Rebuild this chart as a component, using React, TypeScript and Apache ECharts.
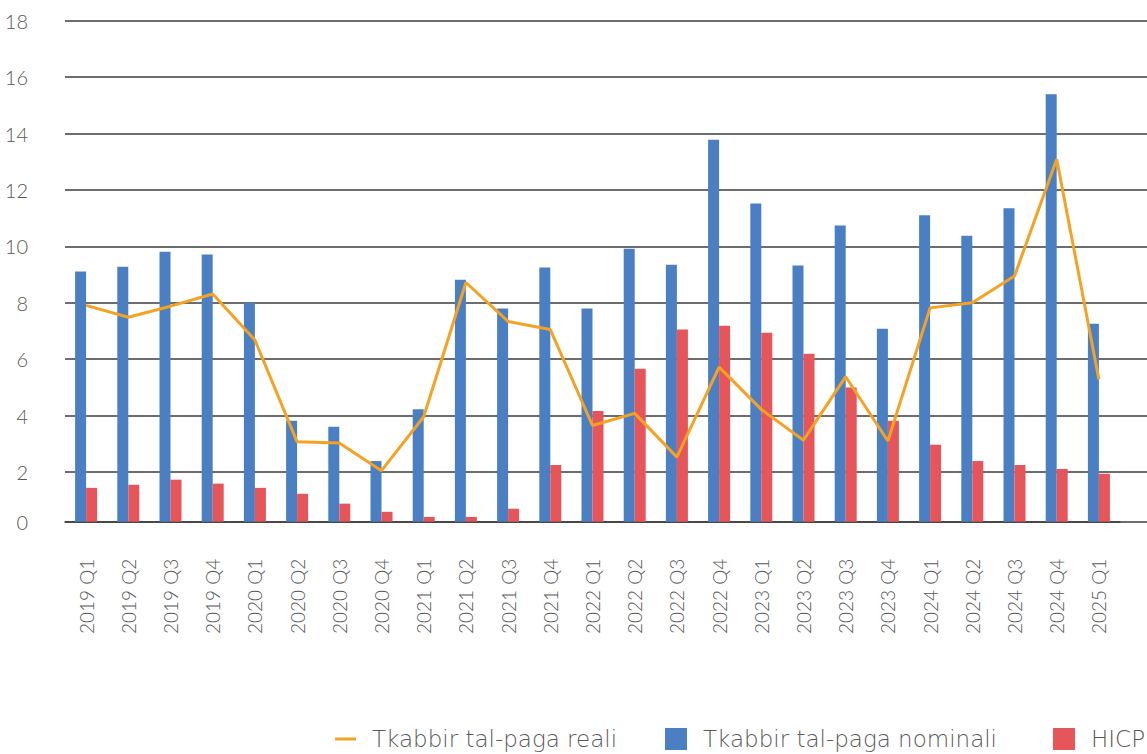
import React, { useEffect, useRef } from "react";
import * as echarts from "echarts";

const categories = [
  "2019 Q1", "2019 Q2", "2019 Q3", "2019 Q4",
  "2020 Q1", "2020 Q2", "2020 Q3", "2020 Q4",
  "2021 Q1", "2021 Q2", "2021 Q3", "2021 Q4",
  "2022 Q1", "2022 Q2", "2022 Q3", "2022 Q4",
  "2023 Q1", "2023 Q2", "2023 Q3", "2023 Q4",
  "2024 Q1", "2024 Q2", "2024 Q3", "2024 Q4",
  "2025 Q1",
];

const nominalWages = [
  9.11, 9.28, 9.81, 9.71,
  8.0, 3.82, 3.61, 2.39,
  4.23, 8.82, 7.8, 9.25,
  7.8, 9.92, 9.35, 13.78,
  11.52, 9.32, 10.74, 7.08,
  11.1, 10.38, 11.35, 15.39,
  7.26,
];

const hicp = [
  1.44, 1.55, 1.73, 1.59,
  1.44, 1.23, 0.88, 0.59,
  0.41, 0.41, 0.7, 2.25,
  4.16, 5.66, 7.05, 7.19,
  6.94, 6.19, 5.0, 3.82,
  2.97, 2.39, 2.25, 2.11,
  1.94,
];

const realWages = [
  7.91, 7.49, 7.88, 8.31,
  6.68, 3.07, 3.03, 2.05,
  3.96, 8.72, 7.34, 7.05,
  3.65, 4.08, 2.53, 5.72,
  4.22, 3.13, 5.38, 3.1,
  7.82, 8.0, 8.95, 13.09,
  5.28,
];

const NAME_REAL = "Tkabbir tal-paga reali";
const NAME_NOMINAL = "Tkabbir tal-paga nominali";
const NAME_HICP = "HICP";

const Y_MIN = 0.24;
const Y_MAX = 18;

export default function App() {
  const ref = useRef<HTMLDivElement>(null);

  useEffect(() => {
    if (!ref.current) return;
    const chart = echarts.init(ref.current, undefined, { renderer: "svg" });
    const textColor = "#595959";
    const gridColor = "#3c3c3c";
    const font = "Lato";

    const legendText = (pad: number) => ({
      color: textColor,
      fontFamily: "DejaVu Sans",
      fontWeight: 300,
      fontSize: 23,
      lineHeight: 23,
      padding: [0, 0, 0, pad],
    });

    chart.setOption({
      animation: false,
      backgroundColor: "#ffffff",
      legend: [
        {
          data: [{ name: NAME_REAL, icon: "rect" }],
          left: 330,
          top: 722.5,
          itemWidth: 21,
          itemHeight: 3,
          selectedMode: false,
          textStyle: legendText(11),
        },
        {
          data: [{ name: NAME_NOMINAL, icon: "rect" }],
          left: 660,
          top: 722.5,
          itemWidth: 22,
          itemHeight: 22,
          selectedMode: false,
          textStyle: legendText(11),
        },
        {
          data: [{ name: NAME_HICP, icon: "rect" }],
          left: 1048,
          top: 722.5,
          itemWidth: 22,
          itemHeight: 22,
          selectedMode: false,
          textStyle: legendText(11),
        },
      ],
      grid: [
        { left: 65, right: 0, top: 20.7, bottom: 232.3, containLabel: false },
        { left: 65, right: 27, top: 20.7, bottom: 232.3, containLabel: false },
      ],
      xAxis: [
        {
          gridIndex: 0,
          type: "category",
          data: [""],
          show: false,
        },
        {
          gridIndex: 1,
          type: "category",
          data: categories,
          axisLine: { show: true, lineStyle: { color: gridColor, width: 1.5 } },
          axisTick: { show: false },
          axisLabel: {
            rotate: 90,
            margin: 37,
            interval: 0,
            color: textColor,
            fontFamily: font,
            fontWeight: 300,
            fontSize: 19,
          },
        },
      ],
      yAxis: [
        {
          gridIndex: 0,
          type: "value",
          min: Y_MIN,
          max: Y_MAX,
          splitNumber: 9,
          axisLine: { show: false },
          axisTick: { show: false },
          splitLine: {
            show: true,
            showMinLine: true,
            showMaxLine: true,
            lineStyle: { color: gridColor, width: 1.5 },
          },
          axisLabel: {
            margin: 37,
            color: textColor,
            fontFamily: font,
            fontWeight: 300,
            fontSize: 20,
            showMinLabel: true,
            formatter: (v: number) => (v < 1 ? "0" : String(Math.round(v))),
          },
        },
        {
          gridIndex: 1,
          type: "value",
          min: Y_MIN,
          max: Y_MAX,
          splitNumber: 9,
          show: false,
          splitLine: { show: false },
        },
      ],
      series: [
        {
          name: NAME_NOMINAL,
          type: "bar",
          xAxisIndex: 1,
          yAxisIndex: 1,
          data: nominalWages,
          barWidth: 11,
          barGap: "0%",
          clip: true,
          itemStyle: { color: "#4A80C3" },
        },
        {
          name: NAME_HICP,
          type: "bar",
          xAxisIndex: 1,
          yAxisIndex: 1,
          data: hicp,
          barWidth: 11,
          barGap: "0%",
          clip: true,
          itemStyle: { color: "#E5555A" },
        },
        {
          name: NAME_REAL,
          type: "line",
          xAxisIndex: 1,
          yAxisIndex: 1,
          data: realWages,
          symbol: "none",
          lineStyle: { color: "#F5A223", width: 3 },
          itemStyle: { color: "#F5A223" },
          z: 5,
        },
      ],
    });

    return () => chart.dispose();
  }, []);

  return (
    <div
      ref={ref}
      style={{ position: "absolute", left: 0, top: 0, width: 1147, height: 754 }}
    />
  );
}
